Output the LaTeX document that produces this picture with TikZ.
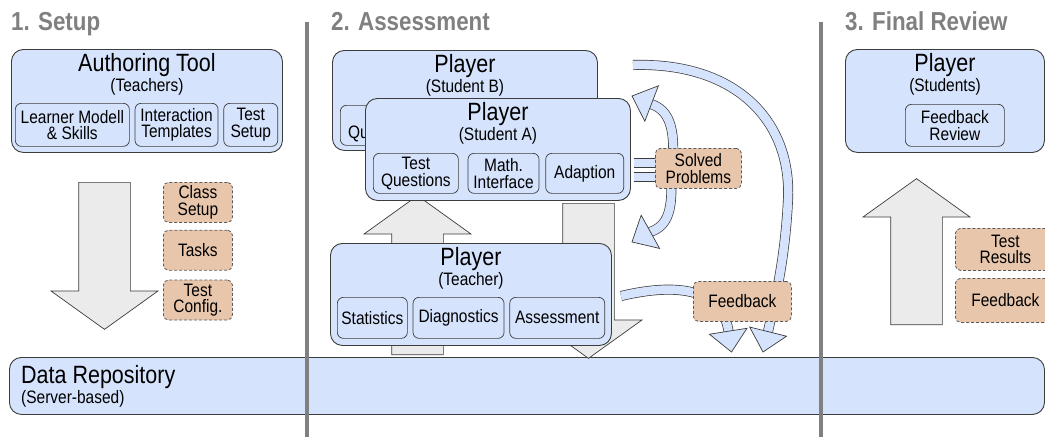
\documentclass[tikz,border=0pt]{standalone}
\usepackage{fontspec}
\setmainfont{Liberation Sans}[FakeStretch=0.86]
\usepackage{xcolor}
\usepackage{tikz}
\usetikzlibrary{positioning}
\usetikzlibrary{shapes.arrows}
\usetikzlibrary{backgrounds}

\definecolor{boxfill}{RGB}{214,227,252}
\definecolor{notefill}{RGB}{232,198,172}
\definecolor{arrowfill}{RGB}{235,235,235}
\definecolor{linegray}{RGB}{60,60,60}
\definecolor{notegray}{RGB}{90,90,90}
\definecolor{headgray}{RGB}{128,128,128}

\newcommand{\panelfont}{\fontsize{25}{20}\selectfont}
\newcommand{\rolefont}{\fontsize{18}{20}\selectfont}
\newcommand{\itemfont}{\fontsize{18}{16.5}\selectfont}
\newcommand{\phasefont}{\fontsize{26}{26}\selectfont\bfseries}

\tikzset{
  bandtip/.pic={\draw[linegray, fill=boxfill, line width=0.7pt] (0,0) -- (-21,19) -- (-21,-19) -- cycle;}
}

\begin{document}
\begin{tikzpicture}[
    x=1pt, y=-1pt,
    panel/.style={draw=linegray, fill=boxfill, rounded corners=12pt, line width=0.9pt,
                  anchor=north west, inner sep=0pt},
    paneltitle/.style={align=center, inner sep=0pt, font=\panelfont},
    item/.style={draw=linegray, fill=boxfill, rounded corners=6pt, line width=0.7pt,
                 align=center, inner sep=0pt, font=\itemfont, minimum height=41pt},
    note/.style={draw=notegray, dash pattern=on 3pt off 2pt, fill=notefill,
                 rounded corners=5pt, line width=0.8pt, align=center, inner sep=0pt,
                 font=\itemfont, anchor=north west, minimum width=69pt, minimum height=40pt},
    blockarrow/.style={single arrow, draw=linegray, fill=arrowfill, line width=0.7pt,
                 inner xsep=0pt, inner ysep=25.5pt, single arrow head extend=27.5pt,
                 single arrow tip angle=108.7, anchor=tail},
    band/.style={draw=linegray, line width=0.7pt, double=boxfill, double distance=8.6pt},
    phasehead/.style={font=\phasefont, text=headgray, anchor=base west, inner sep=0pt},
    sepline/.style={draw=headgray, line width=4pt}
  ]
    \useasboundingbox (0,0) rectangle (1045,437);
    \clip (0,0) rectangle (1045,437);

    % Repository
    \node[panel, minimum width=1035pt, minimum height=57pt] (repo) at (9,357) {};
    \node[paneltitle, align=left, anchor=north west] (repotitle) at (21,365)
      {Data Repository\\{\rolefont (Server-based)}};

    % Separateurs et titres
    \draw[sepline] (307,22) -- (307,437);
    \draw[sepline] (820.5,22) -- (820.5,437);
    \node[phasehead] (setup) at (11,30) {1. Setup};
    \node[phasehead] (assess) at (331,30) {2. Assessment};
    \node[phasehead] (review) at (845,30) {3. Final Review};

    % 1. Setup
    \node[panel, minimum width=271pt, minimum height=103pt] (authoring) at (11,49) {};
    \node[paneltitle, below=4.5pt] (authoringtitle) at (authoring.north)
      {Authoring Tool\\{\rolefont (Teachers)}};
    \node[item, anchor=north west, minimum width=114pt, minimum height=43pt] (learner) at (15,103)
      {Learner Modell\\\& Skills};
    \node[item, right=5pt of learner, minimum width=83pt, minimum height=43pt] (templates)
      {Interaction\\Templates};
    \node[item, right=5pt of templates, minimum width=54pt, minimum height=43pt] (testsetup)
      {Test\\Setup};

    \node[blockarrow, rotate=-90, minimum height=147pt] (setuparrow) at (104.5,182) {};
    \node[note] (classsetup) at (163,182) {Class\\Setup};
    \node[note, below=7pt of classsetup] (tasks) {Tasks};
    \node[note, below=9pt of tasks] (testconfig) {Test\\Config.};

    % 2. Assessment
    \node[blockarrow, rotate=90, minimum height=159pt] (uparrow) at (417.5,355) {};
    \node[blockarrow, rotate=-90, minimum height=155pt] (downarrow) at (588.5,203) {};

    \node[panel, minimum width=265pt, minimum height=100pt] (playerB) at (332,50) {};
    \node[paneltitle, below=4.5pt] (titleB) at (playerB.north) {Player\\{\rolefont (Student B)}};
    \node[item, anchor=north west, minimum width=85pt, minimum height=40pt] (questionsB) at (340,105)
      {Test\\Questions};

    \node[panel, minimum width=265pt, minimum height=102pt] (playerA) at (365,98) {};
    \node[paneltitle, below=4.5pt] (titleA) at (playerA.north) {Player\\{\rolefont (Student A)}};
    \node[item, anchor=north west, minimum width=85pt, minimum height=40pt] (questionsA) at (373,153)
      {Test\\Questions};
    \node[item, right=9pt of questionsA, minimum width=71pt, minimum height=40pt] (mathif)
      {Math.\\Interface};
    \node[item, right=6pt of mathif, minimum width=78pt, minimum height=40pt] (adaption) {Adaption};

    \node[panel, minimum width=281pt, minimum height=102pt] (teacher) at (330,243) {};
    \node[paneltitle, below=4.5pt] (titleT) at (teacher.north) {Player\\{\rolefont (Teacher)}};
    \node[item, anchor=north west, minimum width=70pt] (statistics) at (337,297) {Statistics};
    \node[item, right=5pt of statistics, minimum width=91pt] (diagnostics) {Diagnostics};
    \node[item, right=5pt of diagnostics, minimum width=95pt] (assessment) {Assessment};

    \node[note, minimum width=86pt] (solved) at (655,148) {Solved\\Problems};
    \node[note, minimum width=98pt] (feedbackA) at (693,281) {Feedback};

    % 3. Final Review
    \node[blockarrow, rotate=90, minimum height=146pt] (reviewarrow) at (916.5,325) {};
    \node[panel, minimum width=199pt, minimum height=103pt] (players) at (845,49) {};
    \node[paneltitle, below=4.5pt] (titleS) at (players.north) {Player\\{\rolefont (Students)}};
    \node[item, anchor=north west, minimum width=99pt, minimum height=42pt] (fbreview) at (905,104)
      {Feedback\\Review};
    \node[note, minimum width=100pt, minimum height=42pt] (testresults) at (955,228) {Test\\Results};
    \node[note, minimum width=100pt, minimum height=44pt] (feedbackR) at (955,278) {Feedback};

    % Bandes (fleches courbes)
    \coordinate (stubA1) at (634,163);
    \coordinate (stubA2) at (634,177);
    \coordinate (upbase) at (651,104);
    \coordinate (uptip) at (632,96);
    \coordinate (lowbase) at (650,232);
    \coordinate (lowtip) at (632,242);
    \coordinate (fbstart) at (621,296);
    \coordinate (fbbaseA) at (728.5,331);
    \coordinate (fbtipA) at (731.5,352);
    \coordinate (bigstart) at (633,65);
    \coordinate (fbbaseB) at (768,331.5);
    \coordinate (fbtipB) at (763,352);

    \begin{pgfonlayer}{background}
      \draw[band] (stubA1) -- (solved.center |- stubA1);
      \draw[band] (stubA2) -- (solved.center |- stubA2);
      \draw[band] ([xshift=-26pt]solved.center) .. controls (676,125) and (668,110) .. (upbase);
      \draw[band] ([xshift=-28pt]solved.center) .. controls (674,210) and (668,226) .. (lowbase);
      \draw[band] (fbstart) .. controls (680,282) and (722,290) .. (fbbaseA);
      \draw[band] (bigstart) .. controls (735,62) and (792,120) .. (788,200)
                  .. controls (785,260) and (775,300) .. (fbbaseB);
      \pic[rotate=159] at (uptip) {bandtip};
      \pic[rotate=-151] at (lowtip) {bandtip};
      \pic[rotate=-81] at (fbtipA) {bandtip};
      \pic[rotate=-104] at (fbtipB) {bandtip};
    \end{pgfonlayer}

\end{tikzpicture}
\end{document}
